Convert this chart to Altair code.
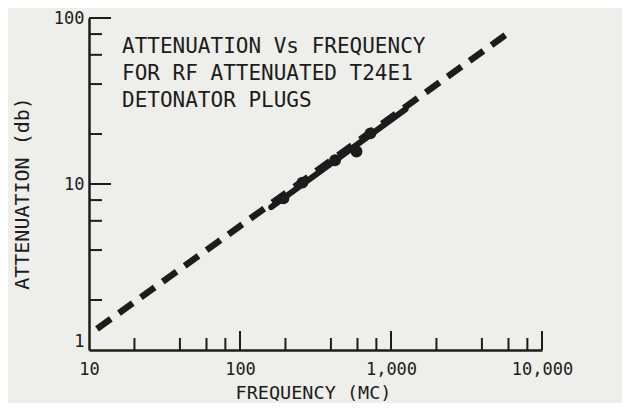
import altair as alt
import pandas as pd

# measured data points (frequency in MC, attenuation in db)
FREQ_POINTS = [194, 259, 426, 591, 731]
ATTEN_POINTS = [8.2, 10.2, 13.9, 15.7, 20.2]
# solid fitted segment
SOLID_FREQ = [161, 1248]
SOLID_ATTEN = [7.25, 28.2]
# dashed extrapolation
DASH_FREQ = [11.3, 6140]
DASH_ATTEN = [1.34, 82.7]

X_LABELS = [10, 100, 1000, 10000]
Y_LABELS = [1, 10, 100]
X_MAJOR_TICKS = [100, 1000, 10000]
X_MINOR_TICKS = [20, 40, 60, 80, 200, 400, 600, 800, 2000, 4000, 6000, 8000]
Y_MAJOR_TICKS = [10, 100]
Y_MINOR_TICKS = [2, 4, 6, 8, 20, 40, 60, 80]

TITLE_LINES = ["ATTENUATION Vs FREQUENCY", "FOR RF ATTENUATED T24E1", "DETONATOR PLUGS"]
X_TITLE = "FREQUENCY (MC)"
Y_TITLE = "ATTENUATION (db)"

W, H = 453, 332
INK = "#1c1c1c"
FONT = "DejaVu Sans Mono"

xs = alt.Scale(type="log", domain=[10, 10000], nice=False)
ys = alt.Scale(type="log", domain=[1, 100], nice=False)

x_axis = alt.Axis(
    values=X_LABELS, format=",", ticks=False, grid=False,
    domainColor=INK, domainWidth=2.5,
    labelFont=FONT, labelFontSize=17, labelColor=INK, labelPadding=11,
    labelFlush=False, labelOverlap=False,
    titleFont=FONT, titleFontSize=18.5, titleFontWeight="normal", titleColor=INK,
    titleX=224, titleY=48, titleBaseline="alphabetic", titleAlign="center",
)
y_axis = alt.Axis(
    values=Y_LABELS, format="d", ticks=False, grid=False,
    domainColor=INK, domainWidth=2.5,
    labelFont=FONT, labelFontSize=17, labelColor=INK, labelPadding=5,
    labelFlush=False, labelOverlap=False,
    labelBaseline={"condition": {"test": "datum.value == 1", "value": "bottom"}, "value": "middle"},
    titleFont=FONT, titleFontSize=20, titleFontWeight="normal", titleColor=INK,
    titleX=-67, titleY=175, titleBaseline="middle", titleAlign="center", titleAngle=270,
)


def X(field):
    return alt.X(field, scale=xs, axis=x_axis, title=X_TITLE)


def Y(field):
    return alt.Y(field, scale=ys, axis=y_axis, title=Y_TITLE)


pts_df = pd.DataFrame({"freq": FREQ_POINTS, "atten": ATTEN_POINTS})
solid_df = pd.DataFrame({"freq": SOLID_FREQ, "atten": SOLID_ATTEN})
dash_df = pd.DataFrame({"freq": DASH_FREQ, "atten": DASH_ATTEN})

points = alt.Chart(pts_df).mark_circle(size=140, color=INK, opacity=1).encode(
    x=X("freq:Q"), y=Y("atten:Q"),
)
dashed = alt.Chart(dash_df).mark_line(
    color=INK, strokeWidth=6.5, strokeDash=[17, 10], strokeCap="butt"
).encode(x=X("freq:Q"), y=Y("atten:Q"))
solid = alt.Chart(solid_df).mark_line(color=INK, strokeWidth=6, strokeCap="round").encode(
    x=X("freq:Q"), y=Y("atten:Q"),
)


def xticks(vals, length):
    return alt.Chart(pd.DataFrame({"freq": vals})).mark_rule(color=INK, strokeWidth=2).encode(
        x=X("freq:Q"), y=alt.value(H), y2=alt.value(H - length),
    )


def yticks(vals, length):
    return alt.Chart(pd.DataFrame({"atten": vals})).mark_rule(color=INK, strokeWidth=2).encode(
        y=Y("atten:Q"), x=alt.value(0), x2=alt.value(length),
    )


title_text = alt.Chart(pd.DataFrame({"k": [0]})).mark_text(
    text=TITLE_LINES, font=FONT, fontSize=21, color=INK, align="left",
    baseline="alphabetic", lineHeight=27,
).encode(x=alt.value(33), y=alt.value(35))

chart = alt.layer(
    points, dashed, solid,
    xticks(X_MINOR_TICKS, 12), xticks(X_MAJOR_TICKS, 19),
    yticks(Y_MINOR_TICKS, 13), yticks(Y_MAJOR_TICKS, 22),
    title_text,
).properties(
    width=W, height=H,
    autosize=alt.AutoSizeParams(type="none"),
    padding={"left": 81, "top": 10, "right": 80, "bottom": 53},
    background="#eeeeea",
).configure_view(stroke=None)

chart.save("out.html", embed_options={"renderer": "svg", "actions": False})
